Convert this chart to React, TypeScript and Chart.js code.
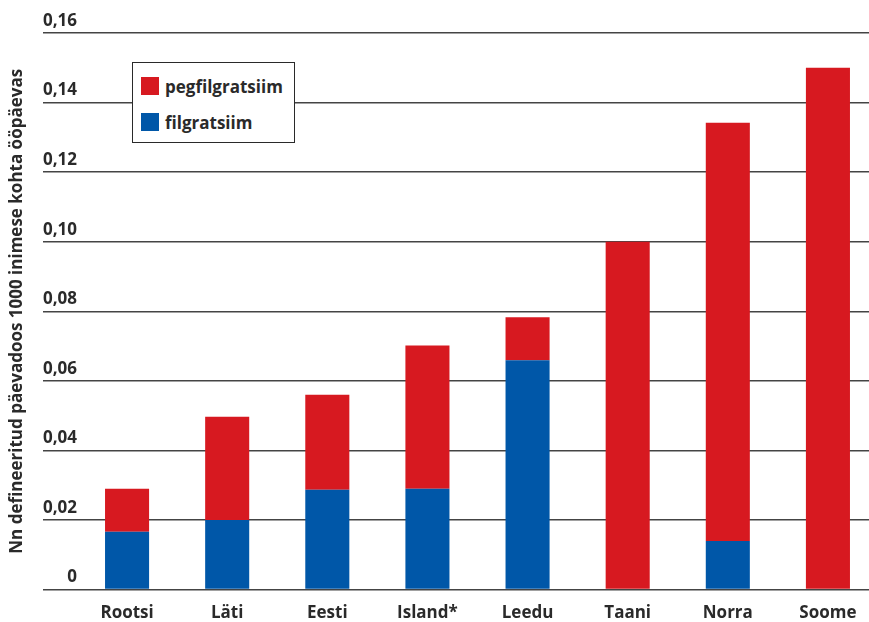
import React, { useEffect, useRef } from "react";
import { Chart, registerables } from "chart.js";

Chart.register(...registerables);

const categories = ["Rootsi", "Läti", "Eesti", "Island*", "Leedu", "Taani", "Norra", "Soome"];
const filgratsiim = [0.0166, 0.02, 0.0287, 0.029, 0.0659, 0, 0.014, 0];
const pegfilgratsiim = [0.0124, 0.0297, 0.0273, 0.0412, 0.0124, 0.1, 0.1202, 0.15];
const yTickLabels = ["0", "0,02", "0,04", "0,06", "0,08", "0,10", "0,12", "0,14", "0,16"];
const yTitle = "Nn defineeritud päevadoos 1000 inimese kohta ööpäevas";

const RED = "#d71920";
const BLUE = "#0057a8";
const TEXT = "#2a2a2a";
const FONT = "'Open Sans', sans-serif";

const legendItems = [
  { label: "pegfilgratsiim", color: RED },
  { label: "filgratsiim", color: BLUE },
];

export default function App() {
  const canvasRef = useRef<HTMLCanvasElement | null>(null);

  useEffect(() => {
    if (!canvasRef.current) return;
    const chart = new Chart(canvasRef.current, {
      type: "bar",
      data: {
        labels: categories,
        datasets: [
          { label: "filgratsiim", data: filgratsiim, backgroundColor: BLUE, stack: "s" },
          { label: "pegfilgratsiim", data: pegfilgratsiim, backgroundColor: RED, stack: "s" },
        ],
      },
      options: {
        animation: false,
        responsive: true,
        maintainAspectRatio: false,
        layout: { padding: { left: 7, top: 33, right: 0, bottom: 0 } },
        plugins: { legend: { display: false }, tooltip: { enabled: false } },
        datasets: { bar: { categoryPercentage: 1, barPercentage: 0.44 } },
        scales: {
          x: {
            stacked: true,
            grid: { display: false, drawTicks: false, tickLength: 0 },
            border: { display: false },
            ticks: { color: TEXT, font: { family: FONT, size: 17, weight: "bold" }, padding: 13 },
          },
          y: {
            stacked: true,
            min: 0,
            max: 0.16,
            border: { display: false },
            grid: { color: "#444", lineWidth: 1.6, drawTicks: true, tickLength: 34 },
            ticks: {
              stepSize: 0.02,
              color: TEXT,
              font: { family: FONT, size: 17, weight: "bold" },
              padding: -34,
              labelOffset: -12,
              callback: (_v: any, i: number) => yTickLabels[i],
            },
            title: {
              display: true,
              text: yTitle,
              color: TEXT,
              font: { family: FONT, size: 17, weight: "bold" },
              padding: { top: 0, bottom: 0 },
            },
            afterFit: (scale: any) => {
              scale.width = 70;
            },
          },
        },
      },
    });
    return () => chart.destroy();
  }, []);

  return (
    <div style={{ position: "fixed", left: 0, top: 0, width: 869, height: 622, overflow: "hidden", background: "#fff" }}>
      <div style={{ position: "absolute", left: 0, top: 0, width: 878, height: 636 }}>
        <canvas ref={canvasRef} />
      </div>
      <div
        style={{
          position: "absolute",
          left: 132,
          top: 62,
          width: 161,
          height: 79,
          border: "1.5px solid #2a2a2a",
          background: "#fff",
          fontFamily: FONT,
          fontWeight: "bold",
          fontSize: 17,
          color: TEXT,
        }}
      >
        {legendItems.map((it, i) => (
          <div key={it.label} style={{ position: "absolute", left: 8, top: 14 + i * 36, height: 18, display: "flex", alignItems: "center", whiteSpace: "nowrap" }}>
            <span style={{ display: "inline-block", width: 18, height: 18, background: it.color, marginRight: 6 }} />
            <span>{it.label}</span>
          </div>
        ))}
      </div>
    </div>
  );
}
